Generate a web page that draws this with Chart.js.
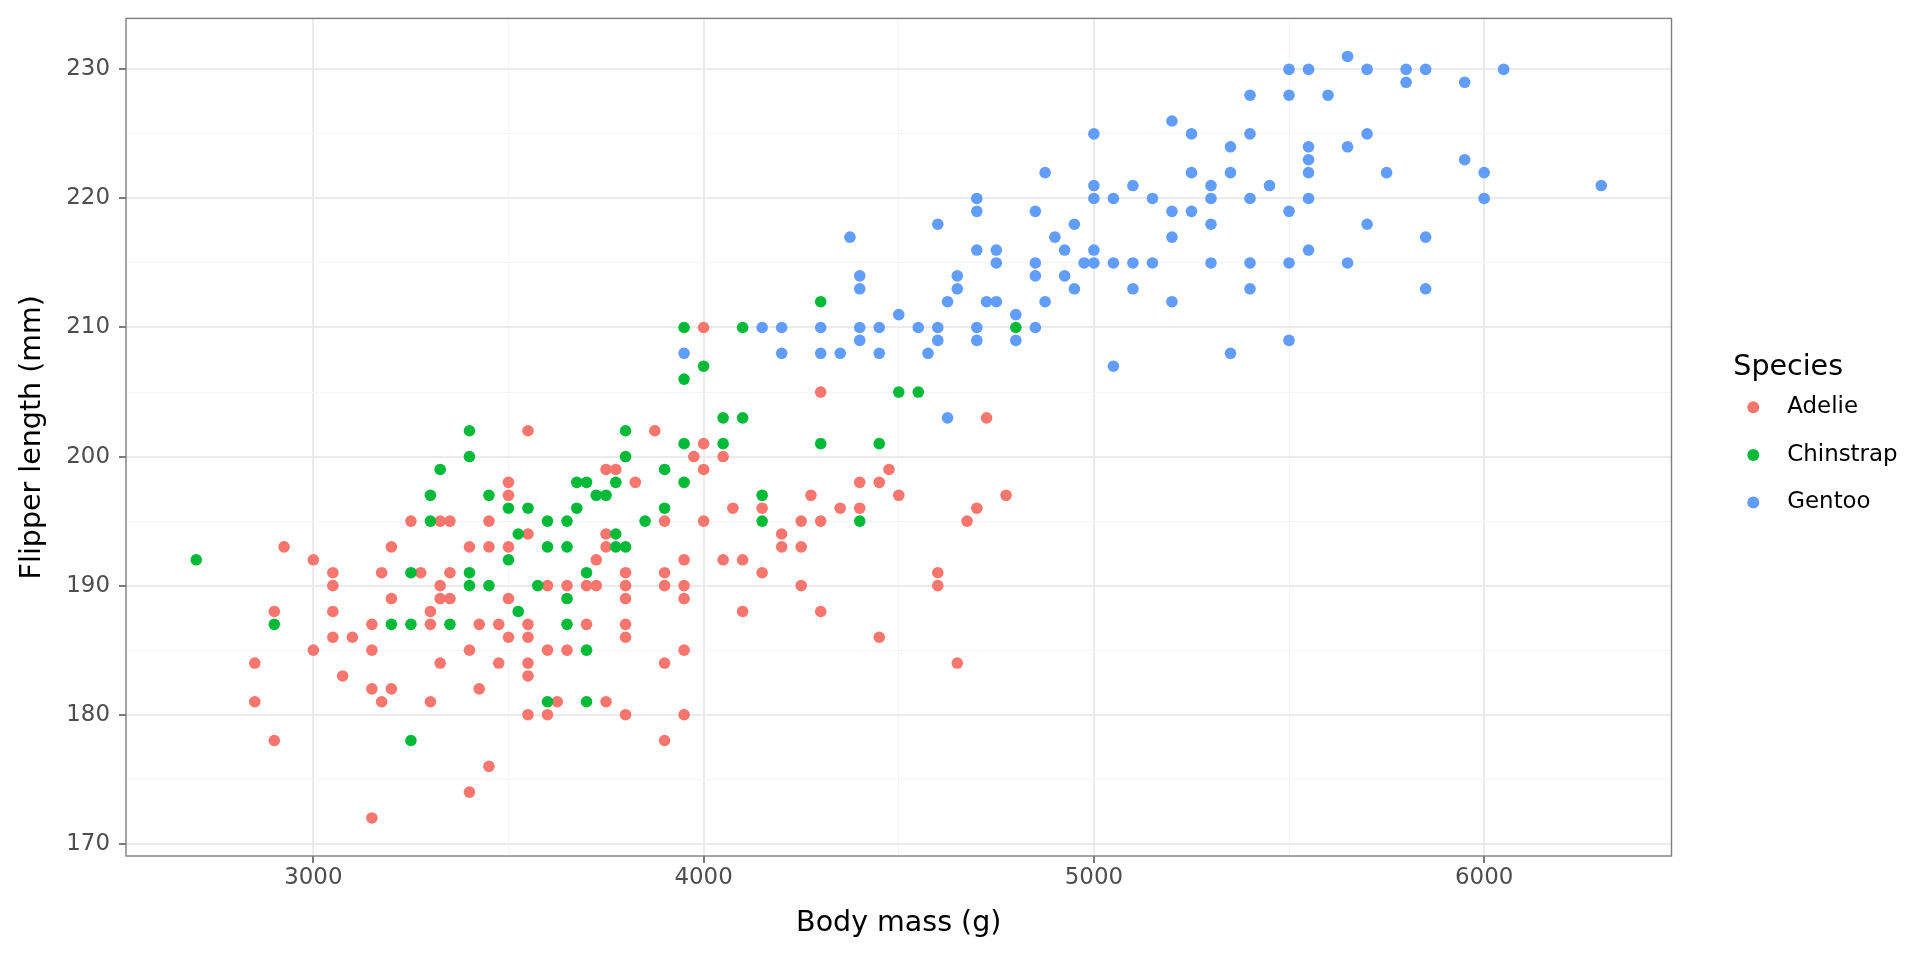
<!DOCTYPE html>
<html>
<head>
<meta charset="utf-8">
<script src="https://cdn.jsdelivr.net/npm/chart.js@4.4.1/dist/chart.umd.min.js"></script>
<style>
  html, body { margin: 0; padding: 0; background: #ffffff; }
  #wrap { width: 1920px; height: 960px; position: relative; }
  canvas { display: block; }
</style>
</head>
<body>
<div id="wrap"><canvas id="c" width="1920" height="960"></canvas></div>
<script>
// ---------------- data ----------------
const speciesNames = ['Adelie', 'Chinstrap', 'Gentoo'];
const speciesColors = ['#F8766D', '#00BA38', '#619CFF'];

const adelieMass = [
  3250,3325,3350,2925,3000,3050,3175,3275,3350,3200,3050,3325,3200,3325,3350,2900,3050,3300,3150,3300,
  3050,3100,3000,3150,2850,3325,3075,3150,3200,2850,3175,3300,2900,3150,
  3450,3900,4000,3550,3750,3400,3450,3500,3750,3725,3950,4050,3800,3900,
  3600,3650,3700,3725,3800,3900,3950,3500,3800,3950,3425,3475,3550,3700,3800,
  3500,3550,3800,3400,3600,3650,3950,3475,3550,3900,3550,3425,3625,3750,
  3550,3600,3800,3950,3900,3450,3400,
  3550,3500,3500,
  4000,4300,3875,4000,3975,4050,3750,3775,4000,3825,4275,4075,4150,4350,4250,4300,4200,4200,4250,4100,
  4725,4475,4400,4450,4500,4775,4400,4700,4675,4150,4600,4250,4600,4100,4300,4450,4650
];
const adelieFlipper = [
  195,195,195,193,192,191,191,191,191,193,190,190,189,189,189,188,188,188,187,187,
  186,186,185,185,184,184,183,182,182,181,181,181,178,172,
  195,195,195,194,194,193,193,193,193,192,192,192,191,191,
  190,190,190,190,190,190,190,189,189,189,187,187,187,187,187,
  186,186,186,185,185,185,185,184,184,184,183,182,181,181,
  180,180,180,180,178,176,174,
  202,198,197,
  210,205,202,201,200,200,199,199,199,198,197,196,196,196,195,195,194,193,193,192,
  203,199,198,198,197,197,196,196,195,191,191,190,190,188,188,186,184
];

const chinstrapMass = [
  3300,2700,3250,2900,3200,3250,3350,3250,
  3400,3400,3325,3300,3450,3500,3550,3600,3650,3525,3600,3650,3500,3400,3400,3450,3575,3650,3525,3650,
  3850,3775,3775,3800,3700,3700,3600,3700,
  4300,3950,4100,4000,3950,4050,4100,3800,3950,4050,4300,3800,3900,3675,3700,3775,3950,3725,3750,4150,3675,3900,4150,
  4450,4400,
  4800,4500,4550
];
const chinstrapFlipper = [
  195,192,191,187,187,187,187,178,
  202,200,199,197,197,196,196,195,195,194,193,193,192,191,190,190,190,189,188,187,
  195,194,193,193,191,185,181,181,
  212,210,210,207,206,203,203,202,201,201,201,200,199,198,198,198,198,197,197,197,196,196,195,
  201,195,
  210,205,205
];

const gentooMass = [
  3950,4150,4200,4300,4200,4300,4350,
  4700,4700,4600,4375,4700,4750,4750,4400,4400,4650,4650,4625,4725,4750,4500,4800,4400,4450,4550,4600,4700,
  4400,4600,4700,4800,4450,4575,4625,
  5500,5550,5400,5500,5600,5200,5000,5250,5400,5350,5550,5550,4875,5250,5350,5550,5000,5100,5300,5450,
  5000,5050,5150,5300,5400,5550,4850,5200,5250,5500,4950,5300,4900,5200,4925,5000,5550,
  4850,4975,5000,5050,5100,5150,5300,5400,5500,4850,4925,4950,5100,5400,4875,5200,4850,5500,5350,5050,
  5650,5700,5800,5850,6050,5800,5950,5700,5650,5950,5750,6000,6300,6000,5700,5850,5650,5850
];
const gentooFlipper = [
  208,210,210,210,208,208,208,
  220,219,218,217,216,216,215,214,213,214,213,212,212,212,211,211,210,210,210,210,210,
  209,209,209,209,208,208,203,
  230,230,228,228,228,226,225,225,225,224,224,223,222,222,222,222,221,221,221,221,
  220,220,220,220,220,220,219,219,219,219,218,218,217,217,216,216,216,
  215,215,215,215,215,215,215,215,215,214,214,213,213,213,212,212,210,209,208,207,
  231,230,230,230,230,229,229,225,224,223,222,222,221,220,218,217,215,213
];

const xTickValues = [3000, 3500, 4000, 4500, 5000, 5500, 6000];
const xTickLabels = ['3000', '', '4000', '', '5000', '', '6000'];
const yTickValues = [170, 175, 180, 185, 190, 195, 200, 205, 210, 215, 220, 225, 230];
const yTickLabels = ['170', '', '180', '', '190', '', '200', '', '210', '', '220', '', '230'];

const xTitle = 'Body mass (g)';
const yTitle = 'Flipper length (mm)';
const legendTitle = 'Species';

// ---------------- chart ----------------
const FONT = 'DejaVu Sans';
const seriesMass = [adelieMass, chinstrapMass, gentooMass];
const seriesFlipper = [adelieFlipper, chinstrapFlipper, gentooFlipper];
const drawOrder = [2, 0, 1]; // Adelie drawn first, Chinstrap on top

const datasets = speciesNames.map((name, i) => ({
  label: name,
  data: seriesMass[i].map((m, k) => ({ x: m, y: seriesFlipper[i][k] })),
  backgroundColor: speciesColors[i],
  borderWidth: 0,
  pointRadius: 5.8,
  pointHoverRadius: 5.8,
  pointStyle: 'circle',
  order: drawOrder[i]
}));

const isMajor = (labels) => (ctx) => labels[ctx.index] !== '';

const panelBorder = {
  id: 'panelBorder',
  afterDatasetsDraw(chart) {
    const { ctx, chartArea: a } = chart;
    ctx.save();
    ctx.strokeStyle = '#7F7F7F';
    ctx.lineWidth = 1.4;
    ctx.strokeRect(a.left, a.top, a.right - a.left, a.bottom - a.top);
    ctx.restore();
  }
};

const ggLegend = {
  id: 'ggLegend',
  afterDraw(chart) {
    const { ctx } = chart;
    ctx.save();
    ctx.textAlign = 'left';
    ctx.textBaseline = 'alphabetic';
    ctx.fillStyle = '#000000';
    ctx.font = '28.5px "' + FONT + '"';
    ctx.fillText(legendTitle, 1733.3, 375);
    ctx.font = '22.9px "' + FONT + '"';
    chart.data.datasets.forEach((ds, i) => {
      const cy = 407.3 + i * 47.6;
      ctx.beginPath();
      ctx.fillStyle = ds.backgroundColor;
      ctx.arc(1753.3, cy, 6, 0, Math.PI * 2);
      ctx.fill();
      ctx.fillStyle = '#000000';
      ctx.fillText(ds.label, 1787.3, 413.3 + i * 47.5);
    });
    ctx.restore();
  }
};

new Chart(document.getElementById('c'), {
  type: 'scatter',
  data: { datasets },
  options: {
    responsive: false,
    devicePixelRatio: 1,
    animation: false,
    events: [],
    layout: { padding: { left: 0, right: 248.5, top: 18.4, bottom: 0 } },
    plugins: {
      legend: { display: false },
      tooltip: { enabled: false },
      title: { display: false }
    },
    scales: {
      x: {
        type: 'linear',
        position: 'bottom',
        min: 2520,
        max: 6480,
        afterBuildTicks: (s) => { s.ticks = xTickValues.map(v => ({ value: v })); },
        afterFit: (s) => { s.height = 104; s.paddingLeft = 0; s.paddingRight = 0; },
        ticks: {
          autoSkip: false, maxRotation: 0, minRotation: 0, padding: 1.5,
          color: '#4D4D4D',
          font: { family: FONT, size: 22.9 },
          callback: (v, i) => xTickLabels[i]
        },
        grid: {
          color: (c) => isMajor(xTickLabels)(c) ? '#EBEBEB' : '#F5F5F5',
          lineWidth: (c) => isMajor(xTickLabels)(c) ? 2 : 1,
          drawTicks: true,
          tickLength: 7,
          tickColor: (c) => isMajor(xTickLabels)(c) ? '#333333' : 'rgba(0,0,0,0)',
          tickWidth: 1.3
        },
        border: { display: false },
        title: {
          display: true, text: xTitle, color: '#000000',
          font: { family: FONT, size: 28.5 },
          padding: { top: 0, bottom: 19 }
        }
      },
      y: {
        type: 'linear',
        position: 'left',
        min: 169.05,
        max: 233.95,
        afterBuildTicks: (s) => { s.ticks = yTickValues.map(v => ({ value: v })); },
        afterFit: (s) => { s.width = 126; s.paddingTop = 0; s.paddingBottom = 0; },
        ticks: {
          autoSkip: false, padding: 9,
          color: '#4D4D4D',
          font: { family: FONT, size: 22.9 },
          callback: (v, i) => yTickLabels[i]
        },
        grid: {
          color: (c) => isMajor(yTickLabels)(c) ? '#EBEBEB' : '#F5F5F5',
          lineWidth: (c) => isMajor(yTickLabels)(c) ? 2 : 1,
          drawTicks: true,
          tickLength: 7,
          tickColor: (c) => isMajor(yTickLabels)(c) ? '#333333' : 'rgba(0,0,0,0)',
          tickWidth: 1.3
        },
        border: { display: false },
        title: {
          display: true, text: yTitle, color: '#000000',
          font: { family: FONT, size: 28.5 },
          padding: { top: 15, bottom: 0 }
        }
      }
    }
  },
  plugins: [panelBorder, ggLegend]
});
</script>
</body>
</html>
